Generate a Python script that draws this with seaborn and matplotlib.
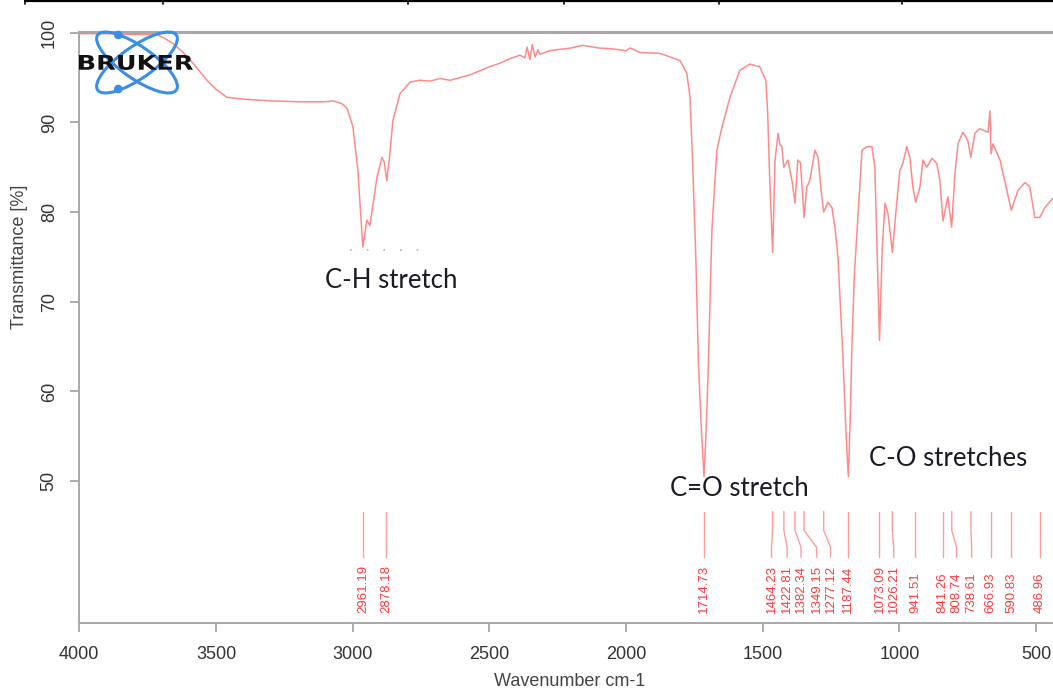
import numpy as np
import pandas as pd
import seaborn as sns
import matplotlib.pyplot as plt
from matplotlib.patches import Ellipse, Circle, PathPatch
from matplotlib.textpath import TextPath
from matplotlib.font_manager import FontProperties
from matplotlib.transforms import Affine2D, IdentityTransform
from matplotlib.lines import Line2D

# spectrum (wavenumber cm-1, transmittance %)
wavenumber = [
    4000, 3900, 3800, 3716, 3690, 3657, 3620, 3584, 3533, 3500,
    3460, 3400, 3300, 3193, 3100, 3072, 3040, 3021, 2999, 2981,
    2963, 2948, 2937, 2911, 2893, 2885, 2875, 2864, 2853, 2827,
    2790, 2754, 2717, 2681, 2644, 2571, 2500, 2462, 2425, 2388,
    2370, 2362, 2352, 2343, 2333, 2322, 2315, 2280, 2200, 2160,
    2100, 2050, 2000, 1985, 1949, 1876, 1803, 1778, 1766, 1756,
    1745, 1735, 1725, 1715, 1708, 1700, 1693, 1686, 1668, 1649,
    1620, 1584, 1547, 1511, 1489, 1482, 1475, 1464, 1455, 1444,
    1437, 1430, 1423, 1408, 1393, 1382, 1372, 1362, 1349, 1339,
    1328, 1309, 1298, 1285, 1277, 1262, 1247, 1235, 1225, 1207,
    1195, 1187, 1180, 1174, 1165, 1155, 1137, 1119, 1101, 1090,
    1082, 1073, 1063, 1053, 1042, 1035, 1026, 1013, 999, 988,
    973, 962, 951, 941, 925, 914, 900, 881, 863, 852,
    841, 823, 809, 797, 786, 768, 750, 739, 724, 706,
    676, 669, 665, 658, 632, 607, 591, 567, 541, 523,
    505, 487, 468, 440, 400,
]
transmittance = [
    99.9, 99.9, 99.8, 99.8, 99.4, 98.8, 97.8, 96.6, 94.7, 93.7,
    92.8, 92.6, 92.4, 92.3, 92.3, 92.4, 92.1, 91.6, 89.5, 84.6,
    76.1, 79.1, 78.5, 83.9, 86.1, 85.6, 83.5, 86.5, 90.2, 93.2,
    94.5, 94.7, 94.6, 94.9, 94.7, 95.3, 96.2, 96.6, 97.1, 97.5,
    97.2, 98.4, 97.0, 98.7, 97.3, 98.1, 97.6, 98.0, 98.3, 98.6,
    98.3, 98.2, 98.0, 98.3, 97.8, 97.7, 96.9, 95.5, 92.8, 85.0,
    75.0, 63.0, 56.0, 50.5, 55.0, 62.0, 70.0, 78.0, 86.9, 89.5,
    92.8, 95.8, 96.5, 96.2, 94.7, 91.0, 84.0, 75.5, 85.8, 88.8,
    87.5, 87.3, 85.0, 85.8, 83.5, 81.0, 85.8, 85.5, 79.4, 82.8,
    83.5, 86.9, 86.1, 82.0, 80.0, 81.1, 80.5, 78.0, 75.0, 64.0,
    55.0, 50.5, 57.0, 65.0, 73.0, 78.0, 86.9, 87.3, 87.3, 85.0,
    76.0, 65.7, 76.0, 81.0, 79.8, 78.0, 75.5, 80.0, 84.6, 85.4,
    87.3, 86.1, 82.8, 81.1, 82.8, 85.8, 85.0, 86.0, 85.4, 83.5,
    79.0, 81.7, 78.3, 84.3, 87.6, 88.9, 88.0, 86.1, 88.8, 89.3,
    88.9, 91.3, 86.5, 87.6, 85.8, 82.4, 80.2, 82.4, 83.3, 82.8,
    79.4, 79.4, 80.5, 81.5, 82.5,
]

# peak picking table
peaks = [2961.19, 2878.18, 1714.73, 1464.23, 1422.81, 1382.34, 1349.15,
         1277.12, 1187.44, 1073.09, 1026.21, 941.51, 841.26, 808.74,
         738.61, 666.93, 590.83, 486.96]
peak_labels = ["%.2f" % p for p in peaks]
# where the label sits when the line is bent aside (layout only)
label_x = [2961.19, 2878.18, 1714.73, 1468, 1411, 1360, 1303,
           1252, 1187.44, 1073.09, 1021, 941.51, 841.26, 791,
           736, 666.93, 590.83, 486.96]

notes = ["C-H stretch", "C=O stretch", "C-O stretches"]
note_x = [2860, 1587, 823]
note_y = [72.4, 49.2, 52.5]

df = pd.DataFrame({"wavenumber": wavenumber, "T": transmittance})

sns.set_theme(style="ticks")
plt.rcParams["font.family"] = ["Liberation Sans", "DejaVu Sans"]

W, H = 1053, 691
fig = plt.figure(figsize=(W / 100, H / 100), dpi=100)
ax = fig.add_axes([79.3 / W, 68.3 / H, 984.2 / W, 590.4 / H])

sns.lineplot(data=df, x="wavenumber", y="T", ax=ax, color="#ff8a8a",
             linewidth=1.1, estimator=None, sort=False)

# peak lines + labels
for p, lx, lab in zip(peaks, label_x, peak_labels):
    ax.plot([p, p, lx, lx], [46.6, 44.5, 42.6, 41.5], color="#ff9c9c", lw=1.0)
    ax.text(lx, 35.3, lab, rotation=90, ha="center", va="bottom",
            fontsize=9.5, color="#ff3b3b")

for t, x, y in zip(notes, note_x, note_y):
    ax.text(x, y, t, ha="center", va="center", fontsize=18.5,
            family=["Lato", "DejaVu Sans"], color="#1b1b26")

# faint dotted remnant under the C-H band
ax.plot([3010, 2735], [75.8, 75.8], color="#b5b5b5", lw=1.2,
        linestyle=(0, (1, 9)))

ax.set_xlim(4000, 400)
ax.set_ylim(34.2, 100.05)
ax.set_xticks([4000, 3500, 3000, 2500, 2000, 1500, 1000, 500])
ax.set_yticks([50, 60, 70, 80, 90, 100])
ax.set_xlabel("Wavenumber cm-1", fontsize=13, color="#444444")
ax.set_ylabel("Transmittance [%]", fontsize=13, color="#444444")
ax.xaxis.set_label_coords(0.4986, -0.085)
ax.yaxis.set_label_coords(-0.052, 0.62)

ax.tick_params(axis="both", direction="out", length=6.5, width=1.2,
               color="#a0a0a0", labelcolor="#333333", labelsize=13)
ax.tick_params(axis="x", pad=10)
ax.tick_params(axis="y", pad=9, labelrotation=90)
for lab in ax.get_yticklabels():
    lab.set_va("center")

for side in ["left", "bottom"]:
    ax.spines[side].set_color("#a8a8a8")
    ax.spines[side].set_linewidth(1.4)
ax.spines["top"].set_color("#a8a8a8")
ax.spines["top"].set_linewidth(2.2)
ax.spines["right"].set_visible(False)

# table border on top of the page
px = IdentityTransform()
fig.add_artist(Line2D([25, W], [H - 1, H - 1], color="black", lw=1.6,
                      transform=px))
for xd in [25, 163, 408, 564, 719, 902]:
    fig.add_artist(Line2D([xd, xd], [H, H - 4], color="black", lw=1.2,
                          transform=px))

# Bruker logo
blue = "#3a8ee8"
for ang in [35, -35]:
    fig.add_artist(Ellipse((137, H - 62.5), 96, 32, angle=ang, fill=False,
                           ec=blue, lw=2.2, transform=px, zorder=5))
for yd in [35, 89]:
    fig.add_artist(Circle((118.3, H - yd), 3.6, color=blue, transform=px,
                          zorder=6))
tp = TextPath((0, 0), "BRUKER", size=1,
              prop=FontProperties(family="DejaVu Sans", weight="bold"))
bb = tp.get_extents()
sx, sy = 114 / bb.width, 15 / bb.height
tr = Affine2D().translate(-bb.x0, -bb.y0).scale(sx, sy).translate(79, H - 70)
fig.add_artist(PathPatch(tp, fc="#111111", ec="none", transform=tr + px,
                         zorder=7))

fig.savefig("out.png", dpi=100)
